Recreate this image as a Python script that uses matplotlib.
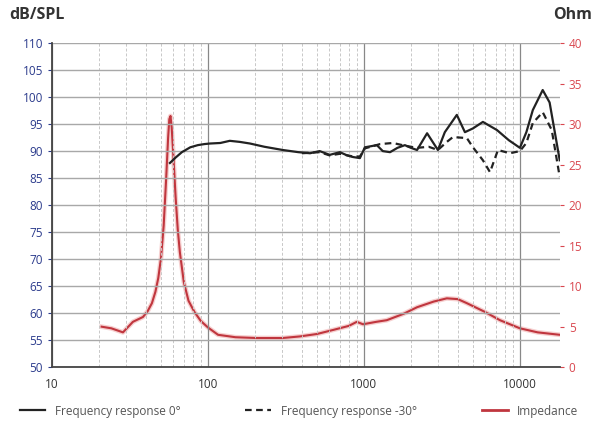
import numpy as np
import matplotlib.pyplot as plt
from matplotlib.ticker import FixedLocator, NullFormatter

# frequency response 0 deg (Hz, dB)
f0 = [57, 62, 68, 77, 86, 95, 103, 120, 138, 160, 186, 230, 302, 380, 451, 520, 603, 701, 780, 851, 942,
      1014, 1210, 1320, 1470, 1640, 1830, 2000, 2190, 2540, 2980, 3300, 3940, 4440, 5000, 5790,
      7120, 8500, 10000, 11000, 12100, 14000, 15500, 18000]
spl0 = [87.8, 88.8, 89.8, 90.7, 91.1, 91.3, 91.4, 91.5, 91.9, 91.7, 91.4, 90.8, 90.2, 89.8, 89.6, 90.0, 89.3,
        89.8, 89.2, 88.9, 88.7, 90.7, 91.1, 90.0, 89.8, 90.6, 91.1, 90.6, 90.2, 93.3, 90.2, 93.5,
        96.7, 93.5, 94.2, 95.4, 93.9, 92.0, 90.6, 93.5, 97.6, 101.3, 99.0, 88.3]

# frequency response -30 deg
f30 = [400, 520, 603, 701, 851, 942, 1014, 1270, 1535, 1830, 2190, 2600, 2980, 3400, 3720, 4570,
       5000, 5790, 6430, 7230, 8630, 10000, 11000, 12100, 14000, 16000, 18000]
spl30 = [89.6, 89.8, 89.2, 89.5, 89.0, 89.0, 90.5, 91.3, 91.5, 91.0, 90.6, 90.8, 90.2, 91.7, 92.6,
         92.4, 90.7, 88.3, 86.1, 90.2, 89.6, 90.0, 91.5, 95.2, 97.2, 93.9, 85.2]

# impedance (Hz, Ohm)
fz = [20.8, 24, 28.5, 33, 38.3, 41, 43.7, 46, 48, 50, 52, 54, 55.5, 56.5, 57.5, 58.5, 60, 62, 64,
      66, 70, 75, 82, 90, 100, 116, 150, 206, 300, 389, 500, 635, 800, 900, 986, 1200, 1400, 1800,
      2190, 2800, 3400, 4000, 4570, 6000, 7450, 10000, 13000, 18000]
ohm = [5.0, 4.8, 4.3, 5.6, 6.2, 6.9, 7.9, 9.3, 11.0, 13.5, 17.5, 23.5, 28.3, 30.6, 31.0, 29.6, 26.0,
       21.0, 17.0, 14.2, 10.5, 8.2, 6.8, 5.7, 4.9, 4.0, 3.7, 3.6, 3.6, 3.8, 4.1, 4.6, 5.1, 5.6, 5.3,
       5.6, 5.8, 6.6, 7.4, 8.1, 8.5, 8.4, 7.9, 6.8, 5.8, 4.8, 4.3, 4.0]

plt.rcParams['font.family'] = ['Open Sans', 'DejaVu Sans']

fig = plt.figure(figsize=(5.98, 4.26), dpi=100)
ax = fig.add_axes([0.087, 0.138, 0.849, 0.761])

ax.set_xscale('log')
ax.set_xlim(10, 18000)
ax.set_ylim(50, 110)
ax.set_yticks(np.arange(50, 111, 5))
ax.xaxis.set_major_locator(FixedLocator([10, 100, 1000, 10000]))
ax.set_xticklabels(['10', '100', '1000', '10000'])
minors = [m * d for d in [10, 100, 1000, 10000] for m in range(2, 10) if m * d < 18000]
ax.xaxis.set_minor_locator(FixedLocator(minors))
ax.xaxis.set_minor_formatter(NullFormatter())

ax.grid(True, which='major', axis='y', color='#a8a8a8', lw=1.0)
ax.grid(True, which='major', axis='x', color='#888888', lw=0.9)
ax.grid(True, which='minor', axis='x', color='#c8c8c8', lw=0.7, ls=(0, (3, 2)))
ax.set_axisbelow(True)

for s in ['top', 'right']:
    ax.spines[s].set_visible(False)
ax.spines['left'].set_color('#444444')
ax.spines['bottom'].set_color('#444444')
ax.spines['left'].set_linewidth(1.3)
ax.spines['bottom'].set_linewidth(1.3)

ax.tick_params(axis='y', colors='#2b3b8c', labelsize=8.5, length=3, width=0.8)
ax.tick_params(axis='x', which='major', colors='#333333', labelsize=8.5, length=0, pad=8)
ax.tick_params(axis='x', which='minor', length=0)

l_imp, = ax.plot([], [], color='#c0363e', lw=2, label='Impedance')
l0, = ax.plot(f0, spl0, color='#222222', lw=1.6, label='Frequency response 0°')
l30, = ax.plot(f30, spl30, color='#222222', lw=1.6, ls=(0, (3, 2)), label='Frequency response -30°')

ax2 = ax.twinx()
ax2.set_ylim(0, 40)
ax2.set_yticks(np.arange(0, 41, 5))
ax2.plot(fz, ohm, color='#f0b0b0', lw=3.4, alpha=0.6)
ax2.plot(fz, ohm, color='#c0363e', lw=1.5)
for s in ['top', 'left', 'bottom', 'right']:
    ax2.spines[s].set_visible(False)
ax2.tick_params(axis='y', colors='#d9474f', labelsize=8.5, length=3, width=0.8)
ax2.set_zorder(ax.get_zorder() - 1)
ax.patch.set_visible(False)

fig.text(0.015, 0.955, 'dB/SPL', fontsize=11.5, fontweight='bold', color='#333333')
fig.text(0.99, 0.955, 'Ohm', fontsize=11.5, fontweight='bold', color='#333333', ha='right')

fig.legend(handles=[l0, l30, l_imp], loc='lower center', bbox_to_anchor=(0.5, -0.005), ncol=3,
           frameon=False, fontsize=8.5, handlelength=2.2, columnspacing=5.5, labelcolor='#555555')

fig.savefig('out.png', dpi=100)
